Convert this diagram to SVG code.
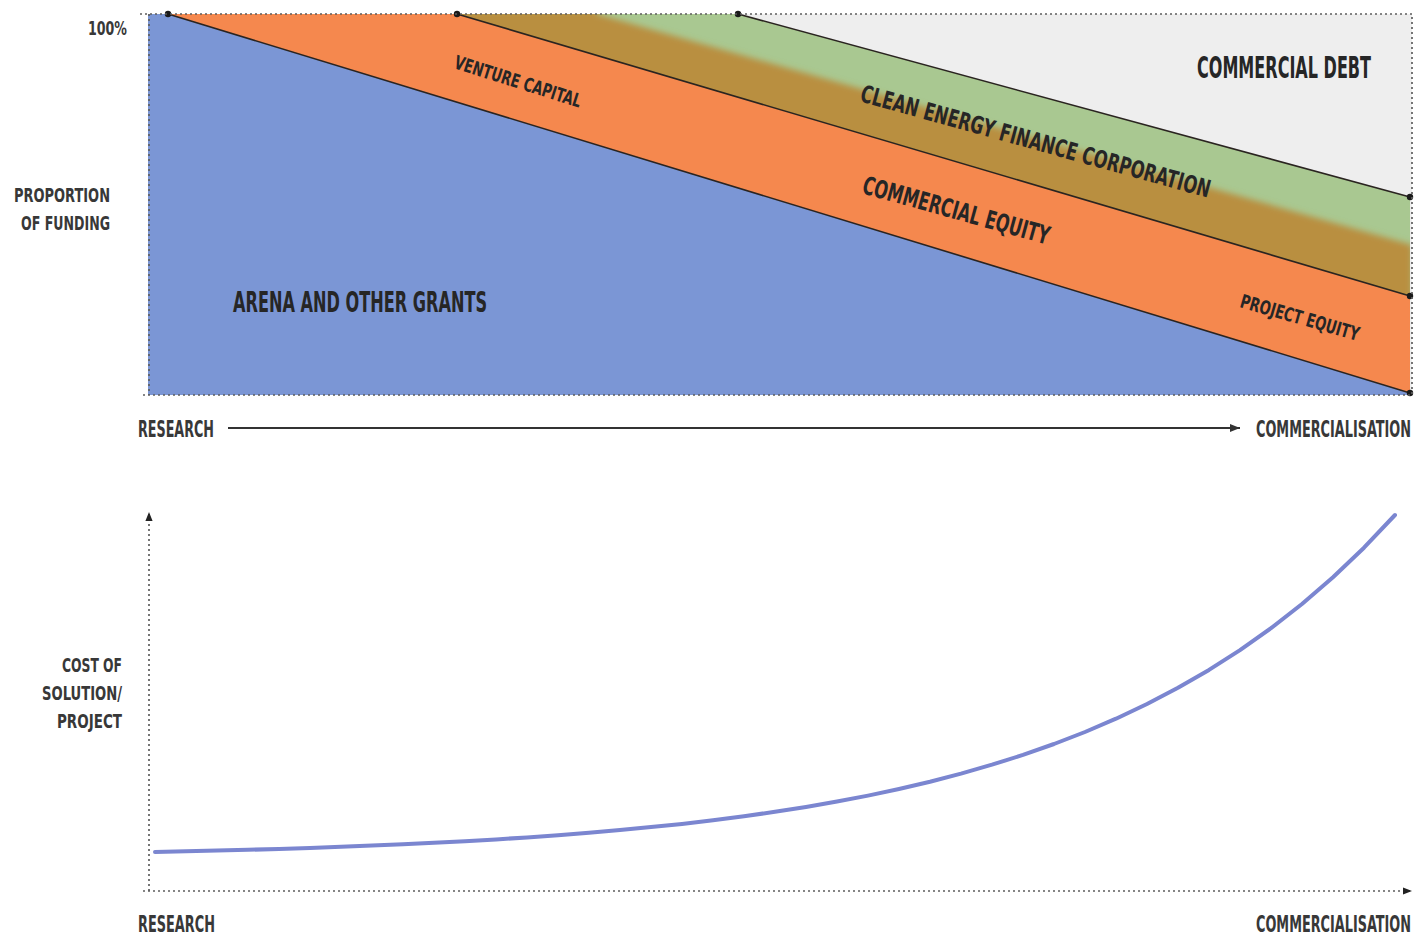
<svg xmlns="http://www.w3.org/2000/svg" width="1415" height="935" viewBox="0 0 1415 935">
<style>
.t{font-family:"DejaVu Sans Condensed","DejaVu Sans",sans-serif;font-weight:bold;fill:#262626}
.ax{font-family:"DejaVu Sans Condensed","DejaVu Sans",sans-serif;font-weight:bold;fill:#383838}
.dot{stroke:#5e5e5e;stroke-width:1.7;stroke-dasharray:2 3;fill:none}
.edge{stroke:#2a2420;stroke-width:1.6;fill:none}
.end{fill:#1a1a1a}
</style>
<defs>
<marker id="ah" viewBox="0 0 10 10" refX="10" refY="5" markerWidth="12" markerHeight="10" markerUnits="userSpaceOnUse" orient="auto">
<path d="M0,1 L10,5 L0,9 Z" fill="#333"/>
</marker>
<marker id="ahs" viewBox="0 0 10 10" refX="10" refY="5" markerWidth="11" markerHeight="9" markerUnits="userSpaceOnUse" orient="auto">
<path d="M0,1 L10,5 L0,9 Z" fill="#222"/>
</marker>
<clipPath id="band"><polygon points="457,14 738,14 1410,197 1410,296"/></clipPath>
<filter id="soft" x="-5%" y="-5%" width="110%" height="110%"><feGaussianBlur stdDeviation="3"/></filter>
</defs>

<g id="funding-chart">
<rect x="148" y="14" width="1264" height="381" fill="#eeeeee"/>
<polygon id="grants-area" points="148,14 168,14 1410,393 1410,395 148,395" fill="#7b96d5"/>
<polygon id="equity-area" points="168,14 457,14 1410,296 1410,393" fill="#f5884e"/>
<polygon id="cefc-area" points="457,14 738,14 1410,197 1410,296" fill="#a9c891"/>
<g clip-path="url(#band)">
<polygon points="440,10 597,10 597,14 1412,245 1412,320 440,320" fill="#b98f3f" filter="url(#soft)"/>
</g>
<polygon points="1410,14 1412,14 1412,395 1410,395" fill="#eeeeee"/>
</g>

<g id="connectors">
<line class="edge" x1="168" y1="14" x2="1410" y2="393"/>
<line class="edge" x1="457" y1="14" x2="1410" y2="296"/>
<line class="edge" x1="738" y1="14" x2="1410" y2="197"/>
<circle class="end" cx="168" cy="14" r="3.2"/>
<circle class="end" cx="457" cy="14" r="3.2"/>
<circle class="end" cx="738" cy="14" r="3.2"/>
<circle class="end" cx="1410" cy="197" r="3.2"/>
<circle class="end" cx="1410" cy="296" r="3.2"/>
<circle class="end" cx="1410" cy="393" r="3.2"/>
<path class="dot" d="M140,14 H1412 V395 H140"/>
<line class="dot" x1="149" y1="14" x2="149" y2="395"/>
<line x1="228" y1="428" x2="1240" y2="428" stroke="#333" stroke-width="2" marker-end="url(#ah)"/>
<line class="dot" x1="149" y1="891" x2="149" y2="512" marker-end="url(#ahs)"/>
<line class="dot" x1="143" y1="891" x2="1412" y2="891" marker-end="url(#ahs)"/>
<polyline id="cost-curve" fill="none" stroke="#7b86d0" stroke-width="4" stroke-linecap="round" stroke-linejoin="round" points="155,852 186,851.3 217,850.6 248,849.8 279,848.9 310,847.9 341,846.8 372,845.6 403,844.3 434,842.8 465,841.2 496,839.4 527,837.4 558,835.2 589,832.8 620,830.1 651,827.1 682,823.9 713,820.2 744,816.2 775,811.8 806,806.9 837,801.5 868,795.6 899,789 930,781.7 961,773.6 992,764.7 1023,754.9 1054,744 1085,732 1116,718.7 1147,704 1178,687.8 1209,669.9 1240,650.1 1271,628.2 1302,604 1333,577.2 1364,547.7 1395,515"/>
</g>

<g id="label-100">
<text class="ax" x="127" y="35" font-size="19" text-anchor="end" textLength="39" lengthAdjust="spacingAndGlyphs">100%</text>
</g>
<g id="label-proportion">
<text class="ax" x="110" y="202" font-size="20" text-anchor="end" textLength="96" lengthAdjust="spacingAndGlyphs">PROPORTION</text>
<text class="ax" x="110" y="230" font-size="20" text-anchor="end" textLength="89" lengthAdjust="spacingAndGlyphs">OF FUNDING</text>
</g>
<g id="label-grants">
<text class="t" x="233" y="312" font-size="29" textLength="254" lengthAdjust="spacingAndGlyphs">ARENA AND OTHER GRANTS</text>
</g>
<g id="label-venture">
<text class="t" transform="translate(453,68) rotate(17.5)" font-size="19" textLength="132" lengthAdjust="spacingAndGlyphs">VENTURE CAPITAL</text>
</g>
<g id="label-cefc">
<text class="t" transform="translate(859,101) rotate(15.5)" font-size="24" textLength="362" lengthAdjust="spacingAndGlyphs">CLEAN ENERGY FINANCE CORPORATION</text>
</g>
<g id="label-comm-equity">
<text class="t" transform="translate(861,193) rotate(15.5)" font-size="25" textLength="193" lengthAdjust="spacingAndGlyphs">COMMERCIAL EQUITY</text>
</g>
<g id="label-debt">
<text class="t" x="1371" y="78" font-size="30" text-anchor="end" textLength="174" lengthAdjust="spacingAndGlyphs">COMMERCIAL DEBT</text>
</g>
<g id="label-project-equity">
<text class="t" transform="translate(1239,307) rotate(16)" font-size="19" textLength="123" lengthAdjust="spacingAndGlyphs">PROJECT EQUITY</text>
</g>
<g id="label-research-top">
<text class="ax" x="138" y="437" font-size="23" textLength="76" lengthAdjust="spacingAndGlyphs">RESEARCH</text>
</g>
<g id="label-comm-top">
<text class="ax" x="1411" y="437" font-size="23" text-anchor="end" textLength="155" lengthAdjust="spacingAndGlyphs">COMMERCIALISATION</text>
</g>
<g id="label-cost">
<text class="ax" x="122" y="672" font-size="20" text-anchor="end" textLength="60" lengthAdjust="spacingAndGlyphs">COST OF</text>
<text class="ax" x="122" y="700" font-size="20" text-anchor="end" textLength="80" lengthAdjust="spacingAndGlyphs">SOLUTION/</text>
<text class="ax" x="122" y="728" font-size="20" text-anchor="end" textLength="65" lengthAdjust="spacingAndGlyphs">PROJECT</text>
</g>
<g id="label-research-bottom">
<text class="ax" x="138" y="932" font-size="23" textLength="77" lengthAdjust="spacingAndGlyphs">RESEARCH</text>
</g>
<g id="label-comm-bottom">
<text class="ax" x="1411" y="932" font-size="23" text-anchor="end" textLength="155" lengthAdjust="spacingAndGlyphs">COMMERCIALISATION</text>
</g>
</svg>
